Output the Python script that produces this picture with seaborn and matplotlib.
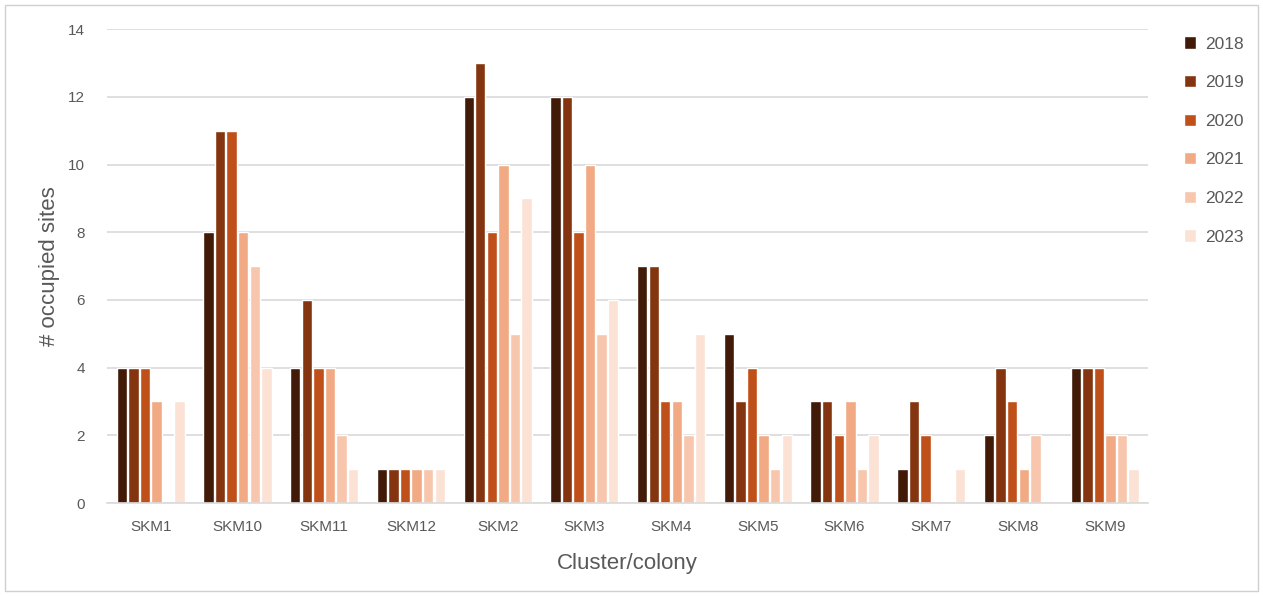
import pandas as pd
import matplotlib.pyplot as plt
import seaborn as sns

# data
clusters = ["SKM1", "SKM10", "SKM11", "SKM12", "SKM2", "SKM3",
            "SKM4", "SKM5", "SKM6", "SKM7", "SKM8", "SKM9"]
years = ["2018", "2019", "2020", "2021", "2022", "2023"]
y2018 = [4, 8, 4, 1, 12, 12, 7, 5, 3, 1, 2, 4]
y2019 = [4, 11, 6, 1, 13, 12, 7, 3, 3, 3, 4, 4]
y2020 = [4, 11, 4, 1, 8, 8, 3, 4, 2, 2, 3, 4]
y2021 = [3, 8, 4, 1, 10, 10, 3, 2, 3, 0, 1, 2]
y2022 = [0, 7, 2, 1, 5, 5, 2, 1, 1, 0, 2, 2]
y2023 = [3, 4, 1, 1, 9, 6, 5, 2, 2, 1, 0, 1]
colors = ["#421A08", "#843510", "#C0501A", "#F2AA84", "#F7C6AC", "#FBE2D5"]

series = [y2018, y2019, y2020, y2021, y2022, y2023]
rows = []
for yr, vals in zip(years, series):
    for c, v in zip(clusters, vals):
        rows.append({"cluster": c, "year": yr, "sites": v})
df = pd.DataFrame(rows)

sns.set_style("white")
plt.rcParams["font.family"] = ["Liberation Sans", "DejaVu Sans"]
grey = "#595959"

fig = plt.figure(figsize=(12.63, 5.96), dpi=100)
ax = fig.add_axes([0.085, 0.156, 0.824, 0.795])

sns.barplot(data=df, x="cluster", y="sites", hue="year", order=clusters,
            hue_order=years, palette=colors, width=0.8, gap=0.1,
            saturation=1, ax=ax, legend=True)

ax.set_ylim(0, 14)
ax.set_yticks(range(0, 15, 2))
ax.yaxis.grid(True, color="#D9D9D9", linewidth=1.2)
ax.set_axisbelow(True)
for s in ["top", "right", "left"]:
    ax.spines[s].set_visible(False)
ax.spines["bottom"].set_color("#D9D9D9")
ax.spines["bottom"].set_linewidth(1.2)
ax.tick_params(axis="both", length=0, labelsize=11, colors=grey, pad=12)
ax.tick_params(axis="y", pad=16)
ax.set_xlabel("Cluster/colony", fontsize=16, color=grey, labelpad=14)
ax.set_ylabel("# occupied sites", fontsize=16, color=grey, labelpad=6)

handles, labels = ax.get_legend_handles_labels()
ax.legend(handles, labels, loc="upper left", bbox_to_anchor=(0.925, 0.965),
          bbox_transform=fig.transFigure, frameon=False, fontsize=12.5,
          labelcolor=grey, handlelength=0.7, handleheight=0.7,
          labelspacing=1.35, handletextpad=0.5)

# outer frame like the reference
fig.add_artist(plt.Rectangle((0.004, 0.008), 0.992, 0.984, fill=False,
                             edgecolor="#D0D0D0", linewidth=1,
                             transform=fig.transFigure))

plt.savefig("out.png", dpi=100)
